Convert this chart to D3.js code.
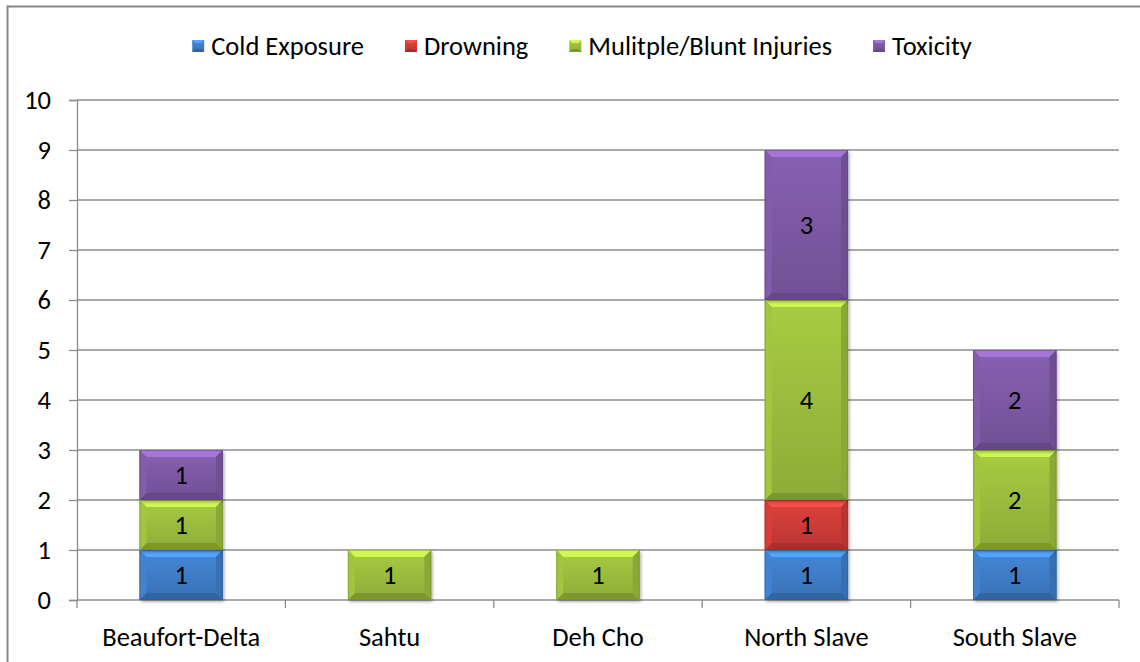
<!DOCTYPE html>
<html><head><meta charset="utf-8">
<script src="https://cdn.jsdelivr.net/npm/d3@7/dist/d3.min.js"></script>
<style>body{margin:0;background:#fff}svg{display:block}text{font-family:Carlito,Calibri,Lato,sans-serif}</style>
</head><body><svg id="c" width="1140" height="662"></svg>
<script>
const categories = ["Beaufort-Delta","Sahtu","Deh Cho","North Slave","South Slave"];
const seriesNames = ["Cold Exposure","Drowning","Mulitple/Blunt Injuries","Toxicity"];
const coldExposure = [1,0,0,1,1];
const drowning = [0,0,0,1,0];
const bluntInjuries = [1,1,1,4,2];
const toxicity = [1,0,0,3,2];
const yTicks = [0,1,2,3,4,5,6,7,8,9,10];
const colors = ["#3e7cc6","#cc3b37","#9abb3c","#7c58a3"];
const FS = 26.5;
const FF = "Carlito,Calibri,Lato,sans-serif";

const seriesValues = [coldExposure, drowning, bluntInjuries, toxicity];
const rows = categories.map((c,i)=>{const o={cat:c}; seriesNames.forEach((s,j)=>o[s]=seriesValues[j][i]); return o;});
const stacked = d3.stack().keys(seriesNames)(rows);

const svg = d3.select("#c");
svg.append("rect").attr("x",7.5).attr("y",6.5).attr("width",1200).attr("height",700)
  .attr("fill","none").attr("stroke","#878787").attr("stroke-width",2);

const L=77,R=1119,T=100,B=600;
const x = d3.scaleBand().domain(categories).range([L,R]).paddingInner(0.6).paddingOuter(0.3);
const y = d3.scaleLinear().domain([0,10]).range([B,T]);

svg.append("g").selectAll("line").data(yTicks.filter(d=>d>0)).join("line")
  .attr("x1",L).attr("x2",R).attr("y1",d=>y(d)).attr("y2",d=>y(d))
  .attr("stroke","#8c8c8c").attr("stroke-width",1.3);

const ya = svg.append("g").attr("transform",`translate(${L},0)`)
  .call(d3.axisLeft(y).tickValues(yTicks).tickSize(8).tickPadding(18).tickFormat(d3.format("d")));
ya.attr("font-size",FS).attr("font-family",FF);
ya.select(".domain").attr("stroke","#8c8c8c").attr("stroke-width",1.3);
ya.selectAll(".tick line").attr("stroke","#8c8c8c").attr("stroke-width",1.3);
ya.selectAll("text").attr("fill","#000");

const xa = svg.append("g").attr("transform",`translate(0,${B})`)
  .call(d3.axisBottom(x).tickSize(0).tickPadding(27));
xa.attr("font-size",FS).attr("font-family",FF);
xa.select(".domain").attr("stroke","#8c8c8c").attr("stroke-width",1.3).attr("d",`M${L},0H${R}`);
xa.selectAll("text").attr("fill","#000");
const step = x.step();
const bounds = d3.range(categories.length+1).map(i=>L+i*step);
svg.append("g").selectAll("line").data(bounds).join("line")
  .attr("x1",d=>d).attr("x2",d=>d).attr("y1",B).attr("y2",B+8)
  .attr("stroke","#8c8c8c").attr("stroke-width",1.3);

const defs = svg.append("defs");
const f = defs.append("filter").attr("id","sh").attr("x","-20%").attr("y","-20%").attr("width","140%").attr("height","140%");
f.append("feDropShadow").attr("dx",1.5).attr("dy",2).attr("stdDeviation",1.5).attr("flood-color","#000").attr("flood-opacity",0.3);
colors.forEach((c,i)=>{
  const g = defs.append("linearGradient").attr("id","g"+i).attr("x1",0).attr("x2",0).attr("y1",0).attr("y2",1);
  g.append("stop").attr("offset","0%").attr("stop-color",d3.color(c).brighter(0.25));
  g.append("stop").attr("offset","100%").attr("stop-color",d3.color(c).darker(0.25));
});

const bw = x.bandwidth(), bv = 7;
stacked.forEach((s,si)=>{
  const g = svg.append("g");
  s.forEach((d,ci)=>{
    const v = d[1]-d[0];
    if(v<=0) return;
    const x0 = x(categories[ci]), x1 = x0+bw, y0 = y(d[1]), y1 = y(d[0]);
    const base = d3.color(colors[si]);
    const seg = g.append("g");
    seg.append("rect").attr("x",x0).attr("y",y0).attr("width",bw).attr("height",y1-y0)
      .attr("fill",`url(#g${si})`).attr("filter","url(#sh)");
    const poly = (pts,col)=>seg.append("polygon").attr("points",pts.map(p=>p.join(",")).join(" ")).attr("fill",col);
    poly([[x0,y0],[x1,y0],[x1-bv,y0+bv],[x0+bv,y0+bv]], base.brighter(0.8));
    poly([[x0,y1],[x1,y1],[x1-bv,y1-bv],[x0+bv,y1-bv]], base.darker(0.6));
    poly([[x0,y0],[x0+bv,y0+bv],[x0+bv,y1-bv],[x0,y1]], base.brighter(0.15));
    poly([[x1,y0],[x1-bv,y0+bv],[x1-bv,y1-bv],[x1,y1]], base.darker(0.3));
    seg.append("rect").attr("x",x0+0.5).attr("y",y0+0.5).attr("width",bw-1).attr("height",y1-y0-1)
      .attr("fill","none").attr("stroke",base.darker(0.8)).attr("stroke-opacity",0.5).attr("stroke-width",1);
    seg.append("text").attr("x",x0+bw/2).attr("y",(y0+y1)/2).attr("dy","0.35em")
      .attr("text-anchor","middle").attr("font-size",FS).attr("fill","#000").text(v);
  });
});

const lg = svg.append("g");
let cx = 0;
const GAP = 41;
seriesNames.forEach((n,i)=>{
  const it = lg.append("g");
  const col = d3.color(colors[i]);
  it.append("rect").attr("x",0).attr("y",-6).attr("width",12).attr("height",12).attr("fill",`url(#g${i})`);
  it.append("polygon").attr("points","0,-6 12,-6 9,-3 3,-3").attr("fill",col.brighter(0.8));
  it.append("polygon").attr("points","0,6 12,6 9,3 3,3").attr("fill",col.darker(0.6));
  const t = it.append("text").attr("x",19).attr("y",0).attr("dy","0.35em").attr("font-size",FS).attr("fill","#000").text(n);
  const w = 19 + t.node().getComputedTextLength();
  it.attr("transform",`translate(${cx},46)`);
  cx += w + GAP;
});
const total = cx - GAP;
lg.attr("transform",`translate(${582 - total/2},0)`);
</script></body></html>
